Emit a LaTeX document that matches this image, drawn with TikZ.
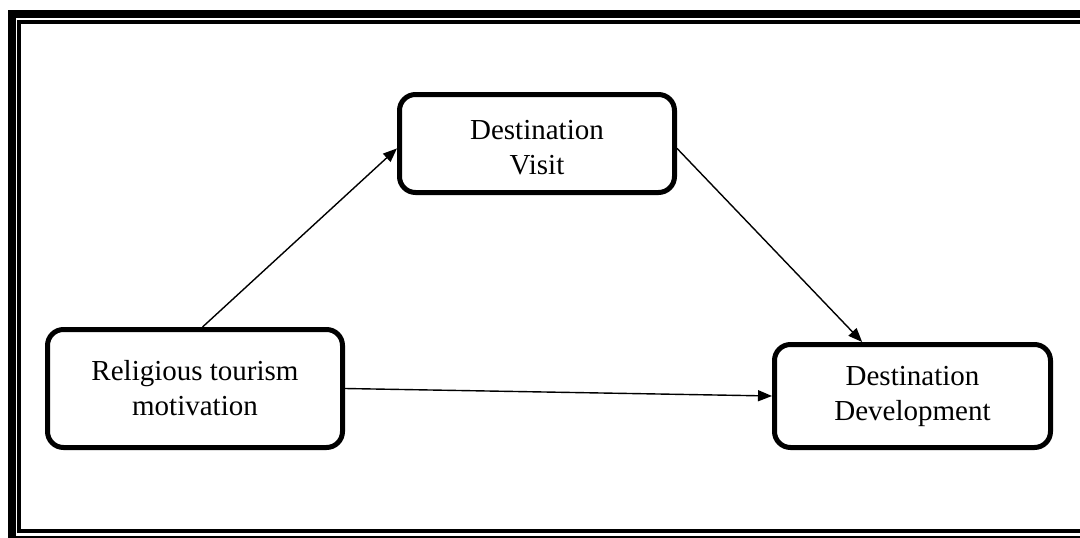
\documentclass[tikz,border=0pt]{standalone}
\usepackage{fontspec}
\setmainfont{Liberation Serif}
\usetikzlibrary{arrows.meta}
\begin{document}
\begin{tikzpicture}[x=1pt,y=-1pt,
  box/.style={draw, line width=5pt, rounded corners=16pt, align=center,
    font=\fontsize{29}{35}\selectfont, inner sep=0pt},
  conn/.style={line width=1.4pt, -{Triangle[length=14pt,width=11pt]}},
  outerframe/.style={line width=8pt},
  innerframe/.style={line width=3.5pt}]
\useasboundingbox (0,0) rectangle (1080,538);
\clip (0,0) rectangle (1080,538);
\draw[outerframe] (12,14) rectangle (1100,540);
\draw[innerframe] (19,22) rectangle (1094,531);
\node[box, minimum width=295pt, minimum height=118pt] (rel) at (195,388.5) {Religious tourism\\motivation};
\node[box, minimum width=275pt, minimum height=98pt] (vis) at (537,143.5) {\rule{0pt}{28pt}Destination\\Visit};
\node[box, minimum width=276pt, minimum height=103pt] (dev) at (912.5,396) {Destination\\Development};
\draw[conn] (rel.83.5) -- (vis.182.7);
\draw[conn] (vis.-2.7) -- (dev.133);
\draw[conn] (rel.east) -- (dev.west);
\end{tikzpicture}
\end{document}
